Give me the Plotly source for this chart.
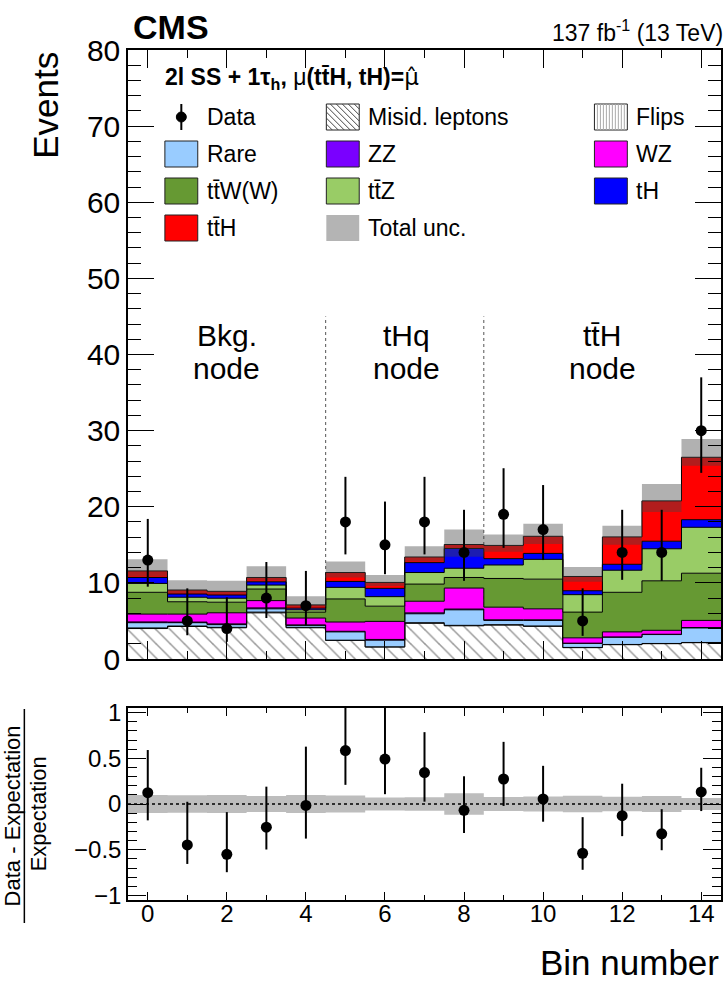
import numpy as np
import plotly.graph_objects as go

# ---------------- values ----------------
bins = np.arange(15)
data = [13, 5, 4, 8, 7, 18, 15, 18, 14, 19, 17, 5, 14, 14, 30]
data_err_lo = [3.5, 1.88, 1.74, 2.62, 2.58, 4.26, 3.86, 4.26, 3.73, 4.4, 4.0, 1.96, 3.6, 3.73, 5.55]
data_err_hi = [5.4, 4.28, 4.1, 4.74, 4.57, 5.93, 5.68, 5.93, 5.6, 6.06, 5.85, 4.28, 5.6, 5.6, 7.0]

misid = [4.00, 4.27, 4.10, 6.06, 4.10, 2.43, 1.57, 4.69, 4.36, 4.45, 4.29, 1.49, 1.88, 2.01, 2.14]
flips = [0.08, 0.06, 0.06, 0.10, 0.06, 0.04, 0.03, 0.08, 0.06, 0.06, 0.05, 0.03, 0.03, 0.03, 0.03]
rare = [0.69, 0.44, 0.35, 0.43, 0.26, 1.09, 0.87, 1.17, 2.04, 0.56, 0.73, 0.52, 0.95, 1.17, 1.91]
zz = [0.10, 0.08, 0.10, 0.12, 0.06, 0.08, 0.10, 0.12, 0.10, 0.08, 0.08, 0.04, 0.04, 0.04, 0.05]
wz = [1.03, 1.05, 1.46, 0.96, 0.90, 1.22, 2.37, 1.53, 2.76, 1.66, 1.44, 0.70, 0.66, 0.52, 0.94]
ttw = [2.86, 1.62, 1.39, 1.52, 0.78, 3.03, 2.00, 2.25, 1.39, 3.77, 3.90, 3.38, 5.20, 6.50, 6.20]
ttz = [1.17, 0.59, 0.52, 0.52, 0.30, 1.52, 1.25, 1.52, 1.21, 1.77, 2.60, 2.29, 2.90, 4.21, 6.03]
th = [0.78, 0.43, 0.43, 0.43, 0.22, 0.78, 1.09, 1.30, 2.60, 0.83, 0.78, 0.52, 0.78, 0.99, 1.00]
tth = [0.86, 0.52, 0.48, 0.57, 0.43, 1.17, 0.78, 0.74, 0.52, 1.74, 2.25, 1.87, 3.60, 5.30, 8.20]
unc_up = [1.53, 1.30, 1.38, 1.49, 1.13, 1.44, 0.99, 1.40, 1.96, 1.43, 1.66, 1.26, 1.46, 2.21, 2.40]
unc_dn = [0.73, 0.43, 0.39, 0.41, 0.26, 0.66, 0.46, 0.60, 1.60, 0.82, 1.02, 0.69, 1.04, 1.47, 1.10]

node_edges = [4.5, 8.5]
node_names = [("Bkg.", 2.0), ("tHq", 6.55), ("tt\u0304H", 11.5)]

# stacking order, bottom to top
processes = [
    ("Misid. leptons", misid, "white", "\\"),
    ("Flips", flips, "white", "|"),
    ("Rare", rare, "#99ccff", None),
    ("ZZ", zz, "#7a00ff", None),
    ("WZ", wz, "#ff00ff", None),
    ("tt\u0304W(W)", ttw, "#669933", None),
    ("tt\u0304Z", ttz, "#99cc66", None),
    ("tH", th, "#0000ff", None),
    ("tt\u0304H", tth, "#ff0000", None),
]
UNC_FILL = "rgba(70,70,70,0.42)"
RATIO_BAND = "#bdbdbd"
FONT = "Liberation Sans, Arial, sans-serif"

# ---------------- geometry helpers (pixel -> paper) ----------------
W, H = 728, 984
ML, MR, MT, MB = 128, 5, 50, 84
PW, PH = W - ML - MR, H - MT - MB


def px(x):
    return (x - ML) / PW


def py(y):
    return (H - MB - y) / PH


edges = np.arange(len(bins) + 1) - 0.5


def step(vals):
    v = np.asarray(vals, dtype=float)
    return np.append(v, v[-1])


fig = go.Figure()

# ---------------- stacked backgrounds ----------------
cum = np.zeros(len(bins))
for i, (name, vals, color, pattern) in enumerate(processes):
    cum = cum + np.asarray(vals)
    kw = {}
    if pattern is not None:
        kw["fillpattern"] = dict(
            shape=pattern,
            fgcolor="#333333" if pattern == "\\" else "#999999",
            bgcolor="white",
            size=10 if pattern == "\\" else 4,
            solidity=0.15 if pattern == "\\" else 0.25,
        )
    fig.add_trace(go.Scatter(
        x=edges, y=step(cum), mode="lines", name=name,
        line=dict(shape="hv", color="black", width=1),
        fill="tozeroy" if i == 0 else "tonexty",
        fillcolor=color, showlegend=False, hoverinfo="skip",
        xaxis="x", yaxis="y", **kw,
    ))
total = cum.copy()

# total uncertainty band
fig.add_trace(go.Scatter(
    x=edges, y=step(total - np.asarray(unc_dn)), mode="lines",
    line=dict(shape="hv", width=0), showlegend=False, hoverinfo="skip",
    xaxis="x", yaxis="y",
))
fig.add_trace(go.Scatter(
    x=edges, y=step(total + np.asarray(unc_up)), mode="lines",
    line=dict(shape="hv", width=0), fill="tonexty", fillcolor=UNC_FILL,
    showlegend=False, hoverinfo="skip", xaxis="x", yaxis="y",
))

# observed data
fig.add_trace(go.Scatter(
    x=bins, y=data, mode="markers",
    marker=dict(color="black", size=11),
    error_y=dict(type="data", symmetric=False, array=data_err_hi,
                 arrayminus=data_err_lo, color="black", thickness=2, width=0),
    showlegend=False, xaxis="x", yaxis="y",
))

# ---------------- ratio panel ----------------
rel_unc = (np.asarray(unc_up) + np.asarray(unc_dn)) / 2 / total
fig.add_trace(go.Scatter(
    x=edges, y=step(-rel_unc), mode="lines", line=dict(shape="hv", width=0),
    showlegend=False, hoverinfo="skip", xaxis="x2", yaxis="y2",
))
fig.add_trace(go.Scatter(
    x=edges, y=step(rel_unc), mode="lines", line=dict(shape="hv", width=0),
    fill="tonexty", fillcolor=RATIO_BAND, showlegend=False, hoverinfo="skip",
    xaxis="x2", yaxis="y2",
))
ratio = np.asarray(data) / total - 1
fig.add_trace(go.Scatter(
    x=bins, y=ratio, mode="markers",
    marker=dict(color="black", size=11),
    error_y=dict(type="data", symmetric=False,
                 array=np.asarray(data_err_hi) / total,
                 arrayminus=np.asarray(data_err_lo) / total,
                 color="black", thickness=2, width=0),
    showlegend=False, xaxis="x2", yaxis="y2",
))

# ---------------- axes ----------------
frame = dict(showline=True, linecolor="black", linewidth=1.5, mirror="ticks",
             showgrid=False, zeroline=False, ticks="inside", tickcolor="black",
             tickwidth=1)
fig.update_layout(
    xaxis=dict(frame, domain=[0, 1], range=[-0.5, 14.5], anchor="y",
               tick0=0, dtick=2, ticklen=18, showticklabels=False,
               minor=dict(ticks="inside", dtick=1, tick0=0, ticklen=8,
                          tickcolor="black")),
    yaxis=dict(frame, domain=[py(659), 1], range=[0, 80], anchor="x",
               tick0=0, dtick=10, ticklen=26,
               tickfont=dict(family=FONT, size=30, color="black"),
               minor=dict(ticks="inside", dtick=2, tick0=0, ticklen=13,
                          tickcolor="black")),
    xaxis2=dict(frame, domain=[0, 1], range=[-0.5, 14.5], anchor="y2",
                tick0=0, dtick=2, ticklen=8, ticklabelstandoff=-9,
                tickfont=dict(family=FONT, size=24, color="black"),
                minor=dict(ticks="inside", dtick=1, tick0=0, ticklen=5,
                           tickcolor="black")),
    yaxis2=dict(frame, domain=[0, py(708)], range=[-1.05, 1.05], anchor="x2",
                tickmode="array", tickvals=[-1, -0.5, 0, 0.5, 1],
                ticktext=["\u22121", "\u22120.5", "0", "0.5", "1"], ticklen=18,
                tickfont=dict(family=FONT, size=24, color="black"),
                minor=dict(ticks="inside", dtick=0.1, tick0=0, ticklen=9,
                           tickcolor="black")),
)

shapes = []
# node separators
for xe in node_edges:
    shapes.append(dict(type="line", xref="x", yref="y", x0=xe, x1=xe, y0=0, y1=45,
                       line=dict(color="#555555", width=1, dash="dot"),
                       layer="below"))
# ratio reference line
shapes.append(dict(type="line", xref="x2", yref="y2", x0=-0.5, x1=14.5, y0=0, y1=0,
                   line=dict(color="black", width=1.5, dash="dot"), layer="above"))
# fraction bar of the ratio title
shapes.append(dict(type="line", xref="paper", yref="paper", x0=px(24), x1=px(24),
                   y0=py(709), y1=py(923), line=dict(color="black", width=1.5)))

annotations = []


def text(x, y, s, size, xanchor="left", yanchor="middle", angle=0, xref="paper", yref="paper"):
    annotations.append(dict(
        x=x, y=y, xref=xref, yref=yref, text=s, showarrow=False,
        xanchor=xanchor, yanchor=yanchor, textangle=angle,
        font=dict(family=FONT, size=size, color="black"),
    ))


# node labels
for name, xc in node_names:
    text(xc, py(336), name, 30, xanchor="center", xref="x")
    text(xc, py(369), "node", 30, xanchor="center", xref="x")

# header texts
text(px(131), py(27), "<b>CMS</b>", 34)
text(px(727), py(31), "137 fb<sup>-1</sup> (13 TeV)", 23, xanchor="right")
text(px(163), py(79),
     "<b>2l SS + 1\u03c4<sub>h</sub>, </b>\u03bc<b>(tt\u0304H, tH)=</b>"
     "<span style=\"font-family:DejaVu Sans\">\u03bc\u0302</span>", 23)

# axis titles
text(px(45), 1.0, "Events", 35, xanchor="center", yanchor="top", angle=-90)
text(px(723), py(962), "Bin number", 35, xanchor="right")
text(px(12), py(816), "Data - Expectation", 22, xanchor="center", angle=-90)
text(px(38), py(814), "Expectation", 22, xanchor="center", angle=-90)

# ---------------- legend ----------------
col_x = [165, 327, 596]
row_y = [117, 154, 191, 228]
SW, SH = 33, 26
legend_entries = [
    (0, 0, "Data", "data"), (1, 0, "Misid. leptons", "misid"), (2, 0, "Flips", "flips"),
    (0, 1, "Rare", "#99ccff"), (1, 1, "ZZ", "#7a00ff"), (2, 1, "WZ", "#ff00ff"),
    (0, 2, "tt\u0304W(W)", "#669933"), (1, 2, "tt\u0304Z", "#99cc66"), (2, 2, "tH", "#0000ff"),
    (0, 3, "tt\u0304H", "#ff0000"), (1, 3, "Total unc.", "unc"),
]


def rect(x0, y0, x1, y1, fill, line="#222222", lw=1):
    shapes.append(dict(type="rect", xref="paper", yref="paper",
                       x0=px(x0), x1=px(x1), y0=py(y1), y1=py(y0),
                       fillcolor=fill, line=dict(color=line, width=lw)))


def seg_path(segs):
    return " ".join(f"M{px(a):.5f},{py(b):.5f} L{px(c):.5f},{py(d):.5f}"
                    for a, b, c, d in segs)


for col, row, label, kind in legend_entries:
    x0 = col_x[col]
    yc = row_y[row]
    y0, y1 = yc - SH / 2, yc + SH / 2
    x1 = x0 + SW
    if kind == "data":
        xm = x0 + SW / 2
        shapes.append(dict(type="line", xref="paper", yref="paper", x0=px(xm), x1=px(xm),
                           y0=py(y0), y1=py(y1), line=dict(color="black", width=2)))
        shapes.append(dict(type="circle", xref="paper", yref="paper",
                           x0=px(xm - 5), x1=px(xm + 5), y0=py(yc + 5), y1=py(yc - 5),
                           fillcolor="black", line=dict(color="black", width=1)))
    elif kind == "misid":
        rect(x0, y0, x1, y1, "white")
        segs = []
        for c in np.arange(-SH, SW, 6):
            sx, sy = x0 + c, y0
            if sx < x0:
                sx, sy = x0, y0 - c
            ex, ey = x0 + c + SH, y1
            if ex > x1:
                ex, ey = x1, y0 + (SW - c)
            if sy < ey:
                segs.append((sx, sy, ex, ey))
        shapes.append(dict(type="path", xref="paper", yref="paper", path=seg_path(segs),
                           line=dict(color="#444444", width=1)))
    elif kind == "flips":
        rect(x0, y0, x1, y1, "white")
        segs = [(xv, y0, xv, y1) for xv in np.arange(x0 + 3, x1 - 1, 3)]
        shapes.append(dict(type="path", xref="paper", yref="paper", path=seg_path(segs),
                           line=dict(color="#aaaaaa", width=1)))
    elif kind == "unc":
        rect(x0, y0, x1, y1, "#b4b4b4", line="#b4b4b4", lw=0)
    else:
        rect(x0, y0, x1, y1, kind)
    text(px(x0 + 40), py(yc), label, 23)

fig.update_layout(
    width=W, height=H,
    margin=dict(l=ML, r=MR, t=MT, b=MB),
    paper_bgcolor="white", plot_bgcolor="white",
    shapes=shapes, annotations=annotations,
    showlegend=False,
    font=dict(family=FONT, color="black"),
)

fig.write_html("out.html")
